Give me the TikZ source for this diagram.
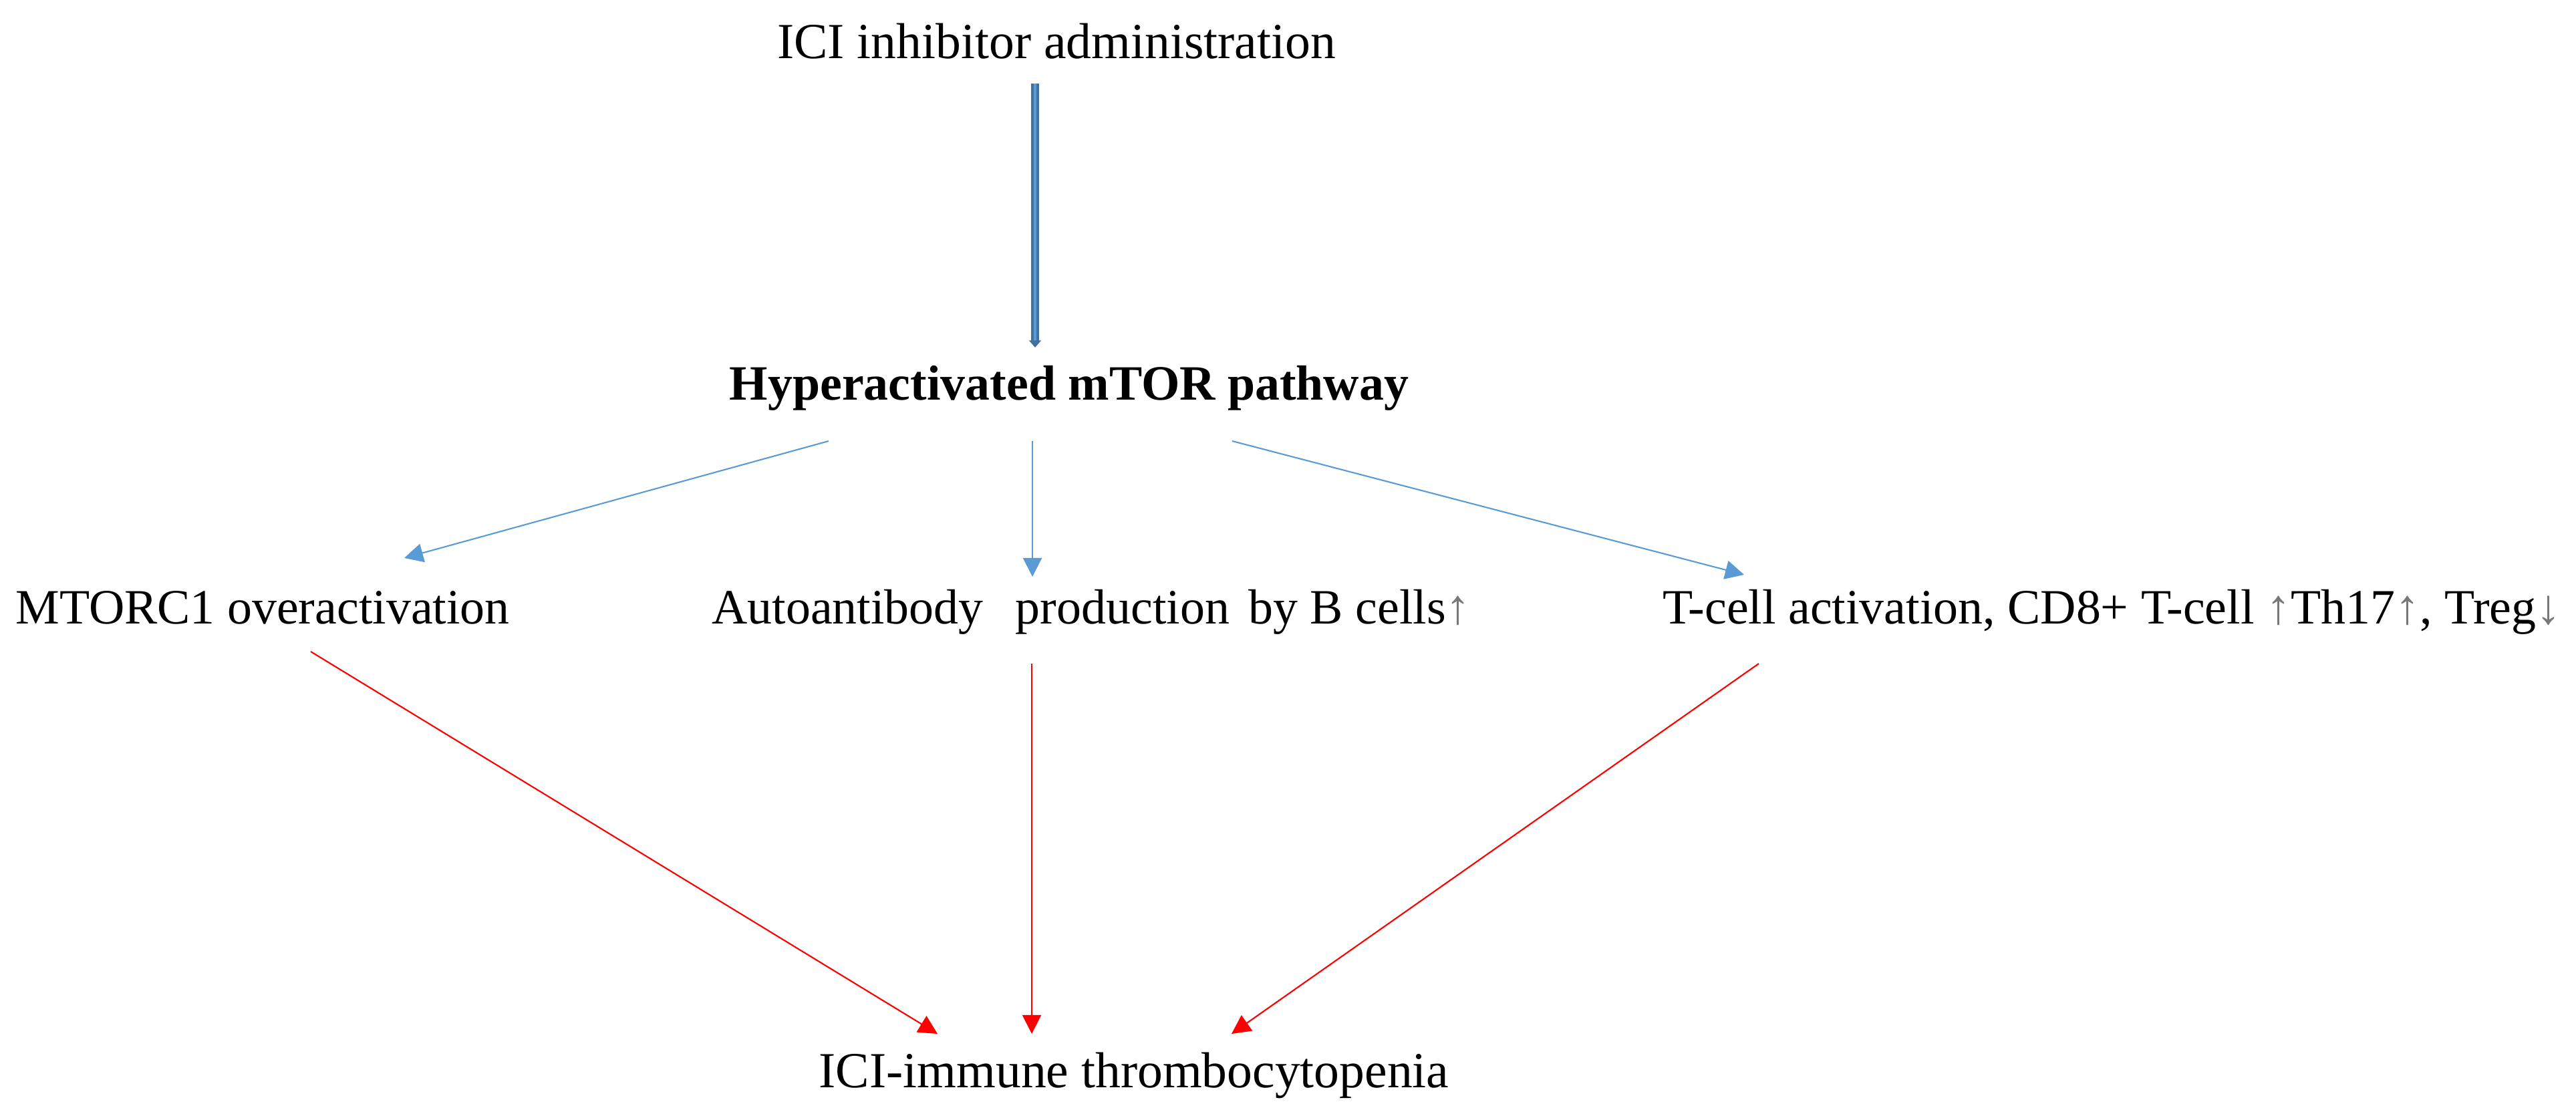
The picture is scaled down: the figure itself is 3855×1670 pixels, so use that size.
\documentclass[tikz,border=0pt]{standalone}
\usepackage{fontspec}
\setmainfont{Liberation Serif}
\usetikzlibrary{arrows.meta}

\definecolor{lineblue}{RGB}{91,155,213}
\definecolor{darkblue}{RGB}{65,113,156}
\definecolor{arrowgray}{RGB}{120,120,120}
\newcommand{\upar}{\textcolor{arrowgray}{↑}}
\newcommand{\downar}{\textcolor{arrowgray}{↓}}

\begin{document}
\begin{tikzpicture}[x=0.01cm,y=-0.01cm]

  \tikzstyle{txt} = [anchor=base, inner sep=0, text height=15pt, text depth=4pt, font=\fontsize{21}{25}\selectfont]
  \tikzstyle{bluearrow} = [lineblue, line width=0.6pt, -{Triangle[width=8pt,length=8pt]}]
  \tikzstyle{redarrow} = [red, line width=0.6pt, -{Triangle[width=8pt,length=8pt]}]

  \useasboundingbox (0,0) rectangle (3855,1670);

  \node[txt, font=\fontsize{21.5}{25}\selectfont] (top) at (1581,88) {ICI inhibitor administration};
  \node[txt, font=\fontsize{21}{25}\selectfont\bfseries] (mtor) at (1600,598) {Hyperactivated mTOR pathway};

  \node[txt, anchor=base west] (mtorc) at (23,933) {MTORC1 overactivation};
  \node[txt] (auto) at (1633,933) {Autoantibody\hspace{0.3cm} production\hspace{0.1cm} by B cells\upar};
  \node[txt, anchor=base east] (tcell) at (3833,933) {T-cell activation, CD8+ T-cell \upar Th17\upar, Treg\downar};

  \node[txt, font=\fontsize{21.5}{25}\selectfont] (itp) at (1697,1627) {ICI-immune thrombocytopenia};

  % double arrow
  \coordinate (d0) at (1549,125);
  \coordinate (d1) at (1549,520);
  \draw[darkblue, double=lineblue, line width=1pt, double distance=1.2pt,
        -{Triangle[width=5pt,length=3pt]}] (d0) -- (d1);

  % blue arrows
  \coordinate (b1) at (1240,660);
  \coordinate (b1e) at (605,835);
  \coordinate (b2) at (1545,660);
  \coordinate (b2e) at (1545,863);
  \coordinate (b3) at (1844,660);
  \coordinate (b3e) at (2610,860);
  \draw[bluearrow] (b1) -- (b1e);
  \draw[bluearrow] (b2) -- (b2e);
  \draw[bluearrow] (b3) -- (b3e);

  % red arrows
  \coordinate (r1) at (465,975);
  \coordinate (r1e) at (1403,1547);
  \coordinate (r2) at (1544,993);
  \coordinate (r2e) at (1544,1547);
  \coordinate (r3) at (2632,993);
  \coordinate (r3e) at (1843,1547);
  \draw[redarrow] (r1) -- (r1e);
  \draw[redarrow] (r2) -- (r2e);
  \draw[redarrow] (r3) -- (r3e);

\end{tikzpicture}
\end{document}
